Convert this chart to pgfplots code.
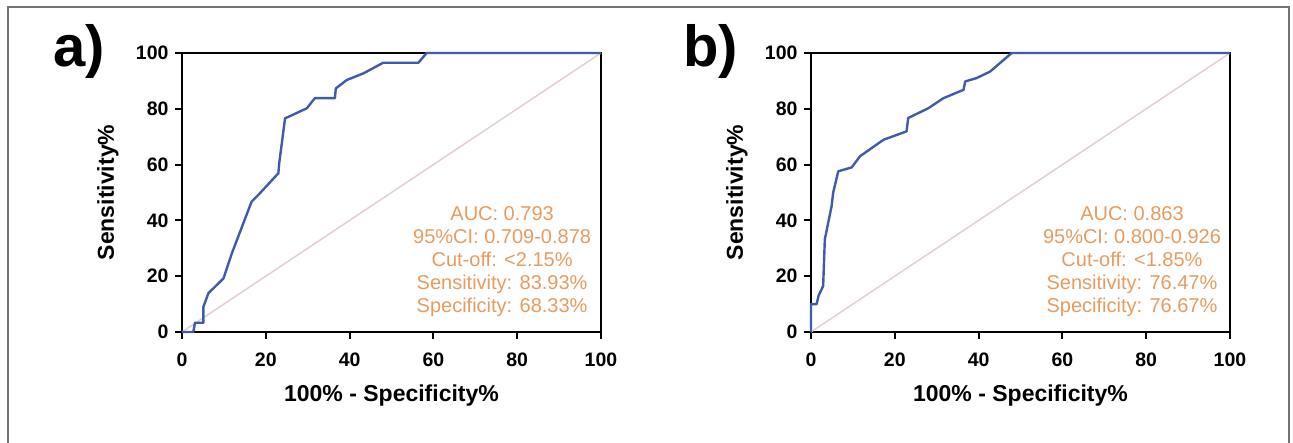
\documentclass[border=0pt]{standalone}
\usepackage{fontspec}
\setmainfont{Liberation Sans}
\usepackage{pgfplots}
\pgfplotsset{compat=1.18}
\definecolor{roc}{RGB}{65,90,170}
\definecolor{ann}{RGB}{232,155,95}
\definecolor{diag}{RGB}{226,208,208}
\pgfplotsset{rocaxis/.style={
  scale only axis, width=419pt, height=279pt,
  xmin=0, xmax=100, ymin=0, ymax=100,
  xtick={0,20,40,60,80,100}, ytick={0,20,40,60,80,100},
  xtick pos=bottom, ytick pos=left, tick align=outside,
  major tick length=7pt,
  axis line style={line width=2.2pt, black},
  tick style={black, line width=2pt},
  tick label style={font=\fontsize{19.5}{22}\selectfont\bfseries},
  xticklabel style={yshift=-10pt},
  yticklabel style={xshift=-3pt},
  /pgf/number format/assume math mode=true,
  clip=false,
  every axis x label/.style={at={(rel axis cs:0.5,0)}, yshift=-64pt, anchor=center, font=\fontsize{23}{26}\selectfont\bfseries},
  every axis y label/.style={at={(rel axis cs:0,0.5)}, xshift=-74pt, rotate=90, anchor=center, font=\fontsize{23}{26}\selectfont\bfseries},
  xlabel={100\% - Specificity\%}, ylabel={Sensitivity\%},
}}
\begin{document}
\begin{tikzpicture}[x=1pt,y=1pt]
\useasboundingbox (0,0) rectangle (1293,442);
\draw[black!55, line width=1.5pt] (8,-5) -- (8,435) -- (1289,435) -- (1289,-5);
\node[font=\fontsize{58}{60}\selectfont\bfseries, anchor=base west, inner sep=0pt] at (53,375) {a)};
\node[font=\fontsize{58}{60}\selectfont\bfseries, anchor=base west, inner sep=0pt] at (683,375) {b)};
\begin{axis}[rocaxis, at={(182pt,110pt)}, anchor=south west]
\addplot[diag, line width=1.5pt] coordinates {(0,0) (100,100)};
\addplot[roc, line width=2.4pt, line join=round] coordinates {
(0,0) (2.7,0) (3.1,3.3) (5.1,3.3) (5.1,9) (6.3,13.9) (9.9,19.2) (11.9,28.2)
(16.6,46.7) (18.2,49.1) (23,56.9) (23.2,60.5) (24.6,76.6) (25.8,77.4) (29.8,80.2)
(31.7,83.8) (36.5,83.8) (36.7,87.3) (39.3,90.3) (43.3,92.7) (48,96.5) (56.4,96.5)
(58,99.3) (58.4,100) (100,100)};
\node[align=center, text=ann, font=\fontsize{20}{23}\selectfont] at (axis cs:76.4,25.1)
{AUC: 0.793\\95\%CI: 0.709-0.878\\Cut-off: <2.15\%\\Sensitivity: 83.93\%\\Specificity: 68.33\%};
\end{axis}
\begin{axis}[rocaxis, at={(811pt,110pt)}, anchor=south west]
\addplot[diag, line width=1.5pt] coordinates {(0,0) (100,100)};
\addplot[roc, line width=2.4pt, line join=round] coordinates {
(0,0) (0,10) (1.35,10) (1.8,13) (2.9,16.5) (3.3,33.2) (4.9,45) (5.3,50) (6.5,57.6)
(9.7,59) (11.7,63) (17.3,68.9) (22.8,71.9) (23.2,76.7) (28,80.2) (31.6,83.8)
(36.4,86.8) (36.8,89.8) (39.5,91) (42.7,93.3) (47.9,100) (100,100)};
\node[align=center, text=ann, font=\fontsize{20}{23}\selectfont] at (axis cs:76.6,25.1)
{AUC: 0.863\\95\%CI: 0.800-0.926\\Cut-off: <1.85\%\\Sensitivity: 76.47\%\\Specificity: 76.67\%};
\end{axis}
\end{tikzpicture}
\end{document}
